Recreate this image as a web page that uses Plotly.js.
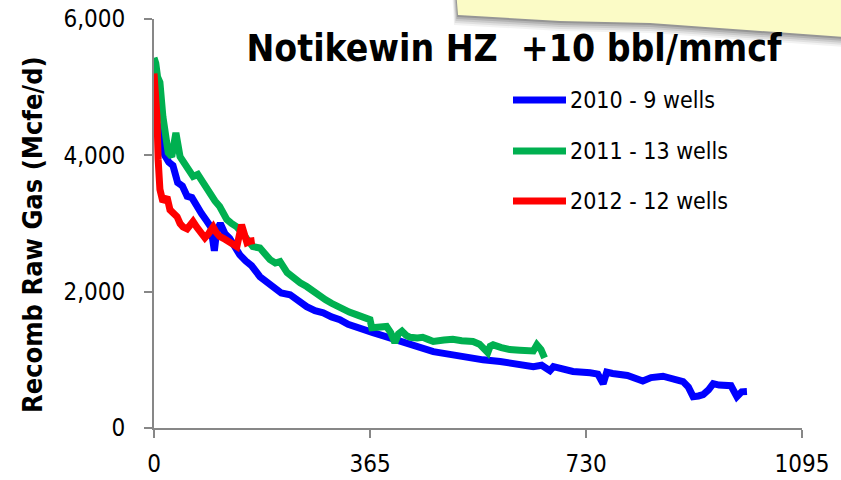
<!DOCTYPE html>
<html>
<head>
<meta charset="utf-8">
<script src="https://cdn.plot.ly/plotly-3.0.1.min.js"></script>
<style>
  html, body { margin: 0; padding: 0; background: #ffffff; }
  #chart { width: 841px; height: 480px; }
</style>
</head>
<body>
<div id="chart"></div>
<script>
// ---- Data ----
const seriesNames = ["2010 - 9 wells", "2011 - 13 wells", "2012 - 12 wells"];
const seriesColors = ["#0000FF", "#00B050", "#FF0000"];

const days2010 = [0,5,12,18,25,32,40,48,56,64,72,80,88,96,102,106,112,120,128,136,145,155,165,179,190,201,215,230,245,258,272,286,300,314,328,343,356,370,385,399,413,427,445,472,500,528,556,585,613,641,655,669,675,690,708,737,750,759,765,775,800,826,840,860,875,894,903,911,920,928,937,945,955,968,975,985,993,1002];
const gas2010 = [4600,4450,4300,4000,3900,3850,3600,3550,3400,3380,3250,3150,3050,2950,2600,2900,3000,2850,2780,2650,2540,2450,2380,2220,2150,2055,1980,1955,1850,1780,1720,1690,1630,1590,1520,1470,1430,1400,1360,1325,1280,1250,1200,1120,1080,1030,1000,975,940,900,920,840,900,870,830,810,790,650,820,800,770,690,740,760,720,680,600,460,470,490,560,650,630,610,620,460,530,535];

const days2011 = [0,3,6,10,15,20,24,30,37,44,50,56,62,66,74,83,90,95,103,111,117,123,131,140,150,160,167,179,188,196,205,213,225,235,247,258,270,281,290,300,314,330,343,356,365,368,380,393,400,407,413,419,426,433,445,454,463,472,490,505,520,539,550,564,568,573,587,601,618,635,641,647,654,660];
const gas2011 = [5430,5350,5150,5070,4570,4250,4040,3980,4330,3980,3900,3840,3750,3690,3720,3600,3480,3400,3330,3250,3150,3060,3000,2950,2850,2720,2660,2640,2550,2470,2420,2440,2280,2200,2130,2075,1990,1930,1880,1830,1765,1700,1660,1620,1590,1470,1480,1490,1400,1250,1380,1420,1360,1330,1320,1330,1300,1270,1290,1300,1280,1270,1230,1105,1200,1220,1180,1150,1140,1150,1130,1220,1150,1030];

const days2012 = [0,2,5,7,10,15,22,27,33,39,44,49,56,62,66,72,78,86,92,100,105,111,118,128,134,140,148,152,157,162,167,170];
const gas2012 = [5200,4950,4570,3940,3500,3320,3390,3200,3150,3100,3000,2950,2920,2980,3030,2950,2880,2790,2850,2950,2870,2810,2780,2730,2700,2660,2980,2850,2720,2740,2760,2750];

const xTicks = [0, 365, 730, 1095];
const yTicks = [0, 2000, 4000, 6000];
const chartTitle = "Notikewin HZ  +10 bbl/mmcf";
const yTitle = "Recomb Raw Gas (Mcfe/d)";

// ---- Build ----
const FONT = "DejaVu Sans Condensed, DejaVu Sans, sans-serif";
const xs = [days2010, days2011, days2012];
const ys = [gas2010, gas2011, gas2012];

const traces = xs.map((x, i) => ({
  x: x, y: ys[i], type: "scatter", mode: "lines", name: seriesNames[i],
  line: { color: seriesColors[i], width: 7 },
  showlegend: false, hoverinfo: "skip"
}));

// plot area geometry (pixels)
const L = 154, R = 39, T = 19, B = 52, W = 841, H = 480;
const PW = W - L - R, PH = H - T - B;
const px = v => (v - L) / PW;
const py = v => (H - B - v) / PH;
const pathFrom = pts => pts.map((p, k) => (k ? "L" : "M") + px(p[0]) + "," + py(p[1])).join(" ") + " Z";

const shapes = [];
// sticky note: soft shadow layers, then the note body (decoration)
const shadowLayers = [[10, 0.05], [8, 0.07], [6, 0.09], [4, 0.12], [2, 0.16]];
shadowLayers.forEach(([d, a]) => {
  shapes.push({ type: "path", xref: "paper", yref: "paper", layer: "above",
    path: pathFrom([[456 - d * 0.4, -10], [458 - d * 0.4, 15 + d], [560, 21 + d], [650, 23 + d], [845, 37 + d], [845, -10]]),
    fillcolor: "rgba(0,0,0," + a + ")", line: { width: 0 } });
});
shapes.push({ type: "path", xref: "paper", yref: "paper", layer: "above",
  path: pathFrom([[456, -10], [458, 15], [560, 21], [650, 23], [845, 37], [845, -10]]),
  fillcolor: "#FBFBC6", line: { width: 0 } });

// legend (manual, to match the long legend lines)
const legendRows = [100, 151, 201];
const annotations = [];
seriesNames.forEach((n, i) => {
  shapes.push({ type: "line", xref: "paper", yref: "paper", layer: "above",
    x0: px(513), x1: px(566), y0: py(legendRows[i]), y1: py(legendRows[i]),
    line: { color: seriesColors[i], width: 7 } });
  annotations.push({ xref: "paper", yref: "paper", x: px(568), y: py(legendRows[i]),
    xanchor: "left", yanchor: "middle", showarrow: false, text: n,
    font: { family: FONT, size: 23, color: "#000000" } });
});

// y axis title placed like the reference
annotations.push({ xref: "paper", yref: "paper", x: px(32), y: py(235),
  xanchor: "center", yanchor: "middle", showarrow: false, textangle: -90,
  text: "<b>" + yTitle + "</b>",
  font: { family: FONT, size: 27, color: "#000000" } });

const axisCommon = {
  showgrid: false, zeroline: false, showline: true,
  linecolor: "#878787", linewidth: 2,
  ticks: "outside", ticklen: 8, tickwidth: 2, tickcolor: "#878787",
  tickfont: { family: FONT, size: 24, color: "#000000" },
  fixedrange: true
};

const layout = {
  width: W, height: H,
  margin: { l: L, r: R, t: T, b: B, pad: 0 },
  paper_bgcolor: "#ffffff", plot_bgcolor: "#ffffff",
  showlegend: false,
  title: { text: "<b>" + chartTitle + "</b>", xref: "paper", x: px(514), xanchor: "center",
    yref: "container", y: 1 - 48 / H, yanchor: "middle",
    font: { family: FONT, size: 37, color: "#000000" } },
  xaxis: Object.assign({}, axisCommon, {
    range: [0, 1095], tickmode: "array", tickvals: xTicks,
    ticktext: xTicks.map(String), ticklabelstandoff: 5
  }),
  yaxis: Object.assign({}, axisCommon, {
    range: [0, 6000], tickmode: "array", tickvals: yTicks,
    ticktext: yTicks.map(v => v.toLocaleString("en-US")), ticklabelstandoff: 14
  }),
  shapes: shapes,
  annotations: annotations
};

Plotly.newPlot("chart", traces, layout, { displayModeBar: false, staticPlot: true });
</script>
</body>
</html>
